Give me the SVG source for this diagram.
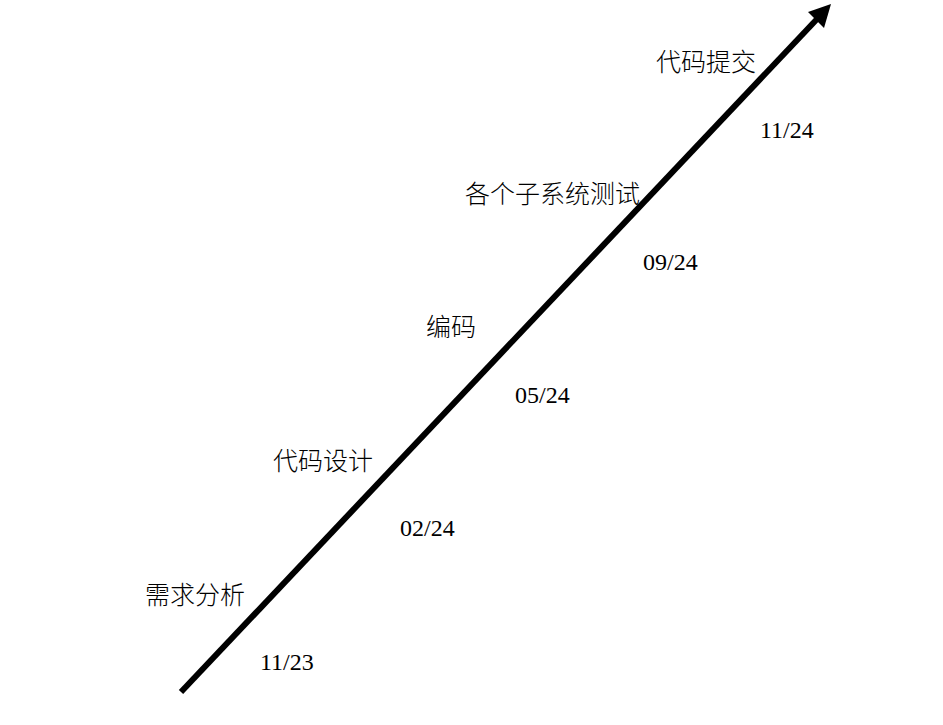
<svg xmlns="http://www.w3.org/2000/svg" width="943" height="725" viewBox="0 0 943 725">
<style>
.t{font-family:"Liberation Serif","Noto Sans CJK SC",serif;font-size:24px;fill:#000}
.c{font-size:25px;font-weight:300}
</style>
<rect width="943" height="725" fill="#fff"/>
<g id="connectors">
<line x1="181" y1="692" x2="818" y2="18" stroke="#000" stroke-width="6"/>
<polygon points="831,4 808,12 824,28" fill="#000"/>
</g>
<g id="m1"><text class="t c" x="145" y="604">需求分析</text><text class="t" x="260" y="670">11/23</text></g>
<g id="m2"><text class="t c" x="273" y="470">代码设计</text><text class="t" x="400" y="536">02/24</text></g>
<g id="m3"><text class="t c" x="426" y="336">编码</text><text class="t" x="515" y="403">05/24</text></g>
<g id="m4"><text class="t c" x="465" y="203">各个子系统测试</text><text class="t" x="643" y="270">09/24</text></g>
<g id="m5"><text class="t c" x="656" y="71">代码提交</text><text class="t" x="760" y="138">11/24</text></g>
</svg>
